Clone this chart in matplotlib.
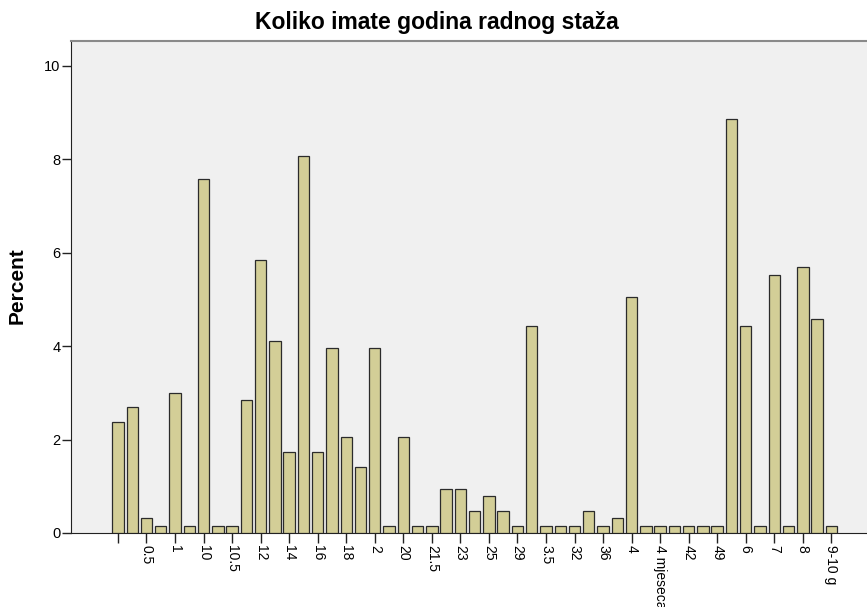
import numpy as np
import matplotlib
matplotlib.use("Agg")
import matplotlib.pyplot as plt

plt.rcParams['font.family'] = ['Liberation Sans', 'DejaVu Sans']

# categories (sorted as text, like SPSS does) - only every second one is labelled
categories = ["", "0", "0.5", "0.8", "1", "1.5", "10", "10 godina", "10.5", "11",
              "12", "13", "14", "15", "16", "17", "18", "19", "2", "2.5",
              "20", "21", "21.5", "22", "23", "24", "25", "27", "29", "3",
              "3.5", "30", "32", "35", "36", "38", "4", "4 godine", "4 mjeseca", "40",
              "42", "45", "49", "5", "6", "6 mjeseci", "7", "7.5", "8", "9",
              "9-10 g"]
percent = [2.37, 2.69, 0.32, 0.16, 3.00, 0.16, 7.58, 0.16, 0.16, 2.84,
           5.85, 4.11, 1.74, 8.06, 1.74, 3.95, 2.05, 1.42, 3.95, 0.16,
           2.05, 0.16, 0.16, 0.95, 0.95, 0.47, 0.79, 0.47, 0.16, 4.42,
           0.16, 0.16, 0.16, 0.47, 0.16, 0.32, 5.06, 0.16, 0.16, 0.16,
           0.16, 0.16, 0.16, 8.85, 4.42, 0.16, 5.53, 0.16, 5.69, 4.58,
           0.16]

fig = plt.figure(figsize=(8.67, 6.07), dpi=100)
ax = fig.add_axes([71/867, 74/607, 796/867, 492/607])
ax.set_facecolor('#f0f0f0')

x = np.arange(len(categories))
ax.bar(x, percent, width=0.8, color='#d3ce97', edgecolor='#2b2b2b', linewidth=0.9, zorder=3)

ax.set_xlim(-3.29, 52.5)
ax.set_ylim(0, 10.53)

ax.set_yticks([0, 2, 4, 6, 8, 10])
ax.tick_params(axis='y', length=6.5, width=1, pad=1, labelsize=10.5, color='#222222')

shown = x[::2]
ax.set_xticks(shown)
ax.set_xticklabels([categories[i] for i in shown], rotation=-90, ha='center', va='top')
ax.tick_params(axis='x', length=7, width=1, pad=1.5, labelsize=10, color='#222222')

ax.spines['right'].set_visible(False)
ax.spines['top'].set_color('#8a8a8a')
ax.spines['top'].set_linewidth(1.5)
ax.spines['left'].set_color('#222222')
ax.spines['bottom'].set_color('#222222')

fig.text(437/867, 1 - 23/607, "Koliko imate godina radnog staža", ha='center', va='center',
         fontsize=16.5, fontweight='bold')
fig.text(17/867, 1 - 286/607, "Percent", ha='center', va='center', rotation=90,
         fontsize=15, fontweight='bold')

fig.savefig("out.png", dpi=100)
